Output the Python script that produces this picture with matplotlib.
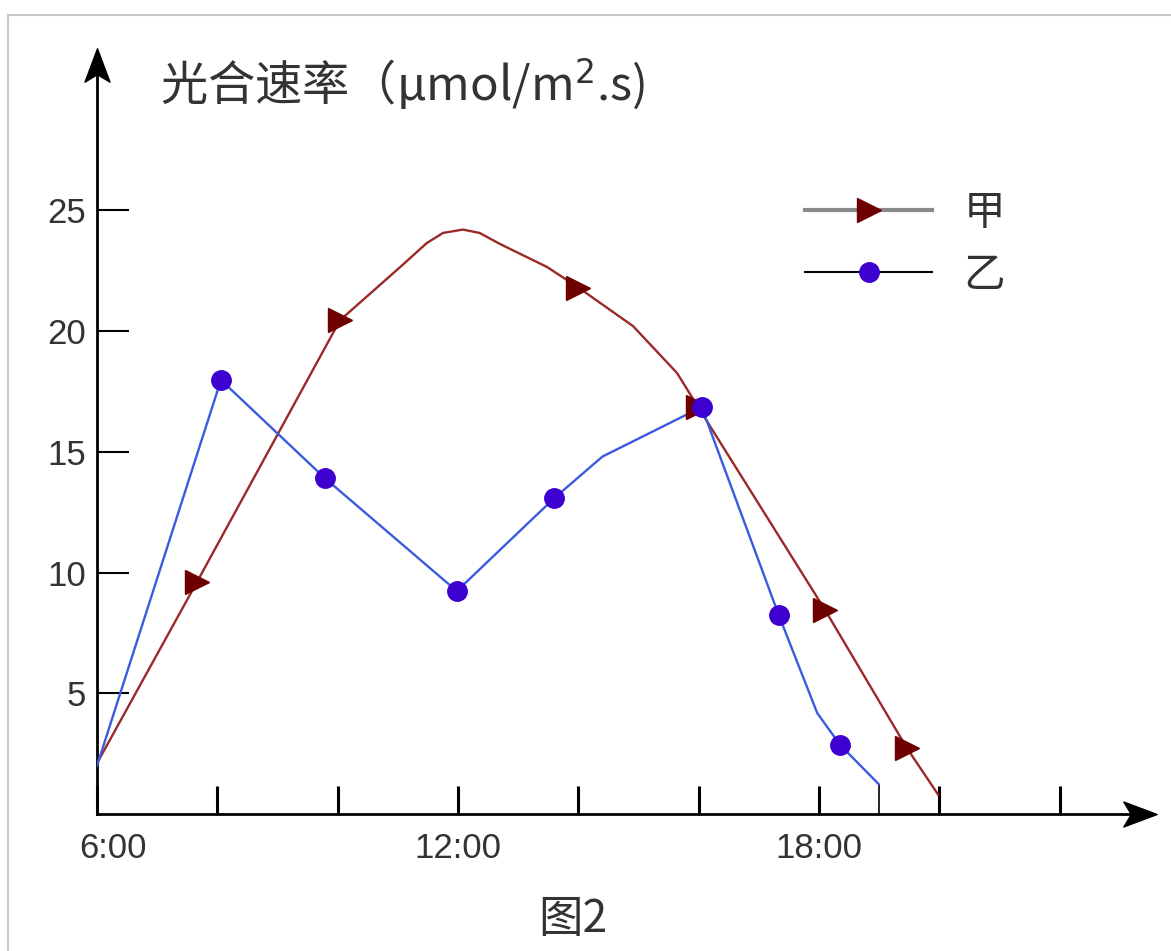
import numpy as np
import matplotlib
matplotlib.use("Agg")
import matplotlib.pyplot as plt
import matplotlib.transforms as mtransforms
from matplotlib.lines import Line2D
from matplotlib.path import Path

# data (hour of day, rate)
jia_x = [6.0, 7.66, 10.04, 11.04, 11.48, 11.75, 12.08, 12.36, 12.7, 13.48, 14.0, 14.91, 15.64, 15.99, 18.1, 19.46, 19.98]
jia_y = [2.1, 9.6, 20.45, 22.65, 23.64, 24.06, 24.2, 24.06, 23.6, 22.65, 21.8, 20.2, 18.26, 16.85, 8.45, 2.73, 0.8]
jia_mk_x = [7.66, 10.04, 14.0, 15.99, 18.1, 19.46]
jia_mk_y = [9.6, 20.45, 21.8, 16.85, 8.45, 2.73]

yi_x = [6.0, 8.06, 9.79, 11.98, 13.6, 14.4, 16.05, 17.33, 17.97, 18.35, 18.99]
yi_y = [2.0, 17.97, 13.9, 9.23, 13.08, 14.8, 16.85, 8.24, 4.18, 2.86, 1.24]
yi_mk_x = [8.06, 9.79, 11.98, 13.6, 16.05, 17.33, 18.35]
yi_mk_y = [17.97, 13.9, 9.23, 13.08, 16.85, 8.24, 2.86]

x_ticks = [6, 8, 10, 12, 14, 16, 18, 20, 22]
x_labels = {6: "6:00", 12: "12:00", 18: "18:00"}
y_ticks = [5, 10, 15, 20, 25]

plt.rcParams['font.family'] = ['Liberation Sans', 'DejaVu Sans']
cjk = ['Noto Sans CJK SC', 'DejaVu Sans']

fig = plt.figure(figsize=(11.71, 9.51), dpi=100)
ax = fig.add_axes([97/1171, 1-814/951, 1048/1171, 754/951])
ax.set_xlim(6, 6 + 1048/60.17)
ax.set_ylim(0, 754/24.15)

# border of the picture
fig.add_artist(Line2D([8/1171, 1], [1-15/951, 1-15/951], color='#c8c8c8', lw=1.5))
fig.add_artist(Line2D([8/1171, 8/1171], [0, 1-15/951], color='#c8c8c8', lw=1.5))

ax.plot(jia_x, jia_y, color='#9a2a2a', lw=1.7, zorder=3)
ax.plot(jia_mk_x, jia_mk_y, ls='none', marker='>', ms=17, color='#6e0000', zorder=4)
ax.plot(yi_x, yi_y, color='#3a5ae0', lw=1.7, zorder=3)
ax.plot(yi_mk_x, yi_mk_y, ls='none', marker='o', ms=14, color='#3d00d0', zorder=5)
ax.vlines(yi_x[-1], 0, yi_y[-1], color='black', lw=1.2)

for s in ['top', 'right']:
    ax.spines[s].set_visible(False)
for s in ['left', 'bottom']:
    ax.spines[s].set_linewidth(2)

# arrow heads on the axes
head_r = Path([(1, 0), (-1, 0.75), (-0.55, 0), (-1, -0.75), (1, 0)],
              [Path.MOVETO, Path.LINETO, Path.LINETO, Path.LINETO, Path.CLOSEPOLY])
head_u = Path([(0, 1), (0.75, -1), (0, -0.55), (-0.75, -1), (0, 1)],
              [Path.MOVETO, Path.LINETO, Path.LINETO, Path.LINETO, Path.CLOSEPOLY])
ax.plot(0.995, 0, marker=head_r, ms=24, color='black', transform=ax.transAxes, clip_on=False)
ax.plot(0, 0.993, marker=head_u, ms=24, color='black', transform=ax.transAxes, clip_on=False)

ax.set_xticks(x_ticks)
ax.set_xticklabels([x_labels.get(t, "") for t in x_ticks])
ax.set_yticks(y_ticks)
ax.tick_params(axis='x', direction='in', length=20, width=2.2, pad=13, labelsize=25, labelcolor='#333333')
ax.tick_params(axis='y', direction='in', length=23, width=1.5, pad=8, labelsize=25, labelcolor='#333333')

# the 6:00 label sits a bit right of its tick
lab0 = ax.get_xticklabels()[0]
lab0.set_transform(lab0.get_transform() + mtransforms.ScaledTranslation(0.16, 0, fig.dpi_scale_trans))

handles = [Line2D([], [], color='#8a8a8a', lw=3, marker='>', ms=17, mfc='#6e0000', mec='#6e0000'),
           Line2D([], [], color='black', lw=1.5, marker='o', ms=14, mfc='#3d00d0', mec='#3d00d0')]
leg = fig.legend(handles, ['甲', '乙'], loc='upper left', bbox_to_anchor=(805/1171, 1-193/951),
                 frameon=False, prop={'family': cjk, 'size': 30}, handlelength=3.05,
                 handletextpad=0.75, borderpad=0, borderaxespad=0, labelspacing=0.5)
for t in leg.get_texts():
    t.set_color('#333333')

fig.text(160/1171, 1-100/951, '光合速率（μmol/m$^2$.s)', fontsize=34, color='#333333',
         family='Noto Sans CJK SC', ha='left', va='baseline')
fig.text(573/1171, 1-919/951, '图2', fontsize=32, color='#333333', family=cjk,
         ha='center', va='center')

fig.savefig('out.png', dpi=100)
